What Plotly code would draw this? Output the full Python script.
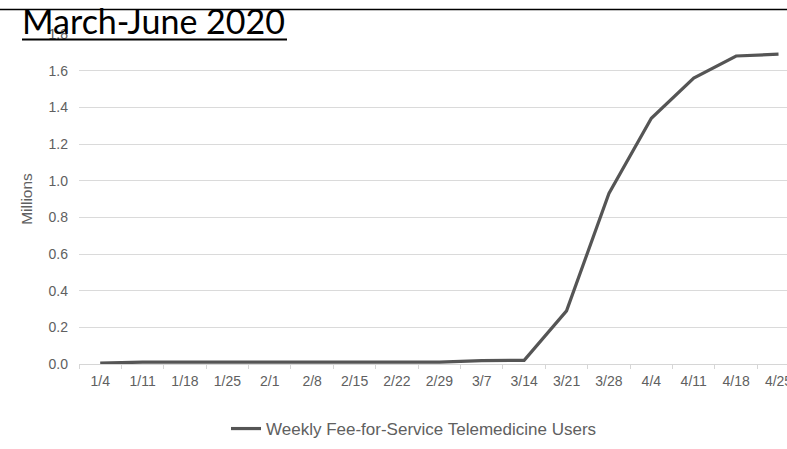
import plotly.graph_objects as go

weeks = ["1/4", "1/11", "1/18", "1/25", "2/1", "2/8", "2/15", "2/22", "2/29",
         "3/7", "3/14", "3/21", "3/28", "4/4", "4/11", "4/18", "4/25"]
users_millions = [0.005, 0.01, 0.01, 0.01, 0.01, 0.01, 0.01, 0.01, 0.01,
                  0.018, 0.02, 0.29, 0.93, 1.34, 1.56, 1.68, 1.69]
y_ticks = [0.0, 0.2, 0.4, 0.6, 0.8, 1.0, 1.2, 1.4, 1.6, 1.8]
series_name = "Weekly Fee-for-Service Telemedicine Users"
title_text = "March-June 2020"

W, H = 787, 449
L, R, T, B = 79, 0, 34, 85
PW, PH = W - L - R, H - T - B

fig = go.Figure()
fig.add_trace(go.Scatter(
    x=weeks, y=users_millions, mode="lines", name=series_name,
    line=dict(color="#555555", width=3.2),
    showlegend=True,
))

tick_font = dict(family="Liberation Sans, Arial", size=14, color="#606060")

fig.update_layout(
    width=W, height=H,
    margin=dict(l=L, r=R, t=T, b=B, autoexpand=False),
    paper_bgcolor="white", plot_bgcolor="white",
    showlegend=True,
    legend=dict(orientation="h", x=(226 - L) / PW, xanchor="left",
                y=-(429 - (H - B)) / PH, yanchor="middle",
                font=dict(family="Liberation Sans, Arial", size=17, color="#606060"),
                bgcolor="rgba(0,0,0,0)"),
    xaxis=dict(type="category", categoryorder="array", categoryarray=weeks,
               range=[-0.5, 16.2], showgrid=False, zeroline=False, automargin=False,
               showline=True, linecolor="#d6d6d6", linewidth=1,
               ticks="outside", tickson="boundaries", ticklen=4, tickcolor="#d6d6d6",
               tickfont=tick_font, ticklabelstandoff=4),
    yaxis=dict(range=[0, 1.8], tickvals=y_ticks, tickformat=".1f", automargin=False,
               showgrid=True, gridcolor="#dadada", gridwidth=1,
               zeroline=False, showline=False, ticks="",
               tickfont=tick_font, ticklabelstandoff=10,
               title=dict(text="Millions", font=dict(family="Liberation Sans, Arial", size=15.5, color="#606060"),
                          standoff=12)),
)

# title annotation (drawn on top of the gridlines)
fig.add_annotation(
    text=title_text, xref="paper", yref="paper",
    x=(20 - L) / PW, xanchor="left",
    y=1 + (T - 43) / PH, yanchor="bottom",
    showarrow=False, font=dict(family="Lato", size=34, color="black"),
)

# top rule and title underline
fig.add_shape(type="line", xref="paper", yref="paper",
              x0=-L / PW, x1=1, y0=1 + (T - 9.5) / PH, y1=1 + (T - 9.5) / PH,
              line=dict(color="black", width=1.6))
fig.add_shape(type="line", xref="paper", yref="paper",
              x0=(22 - L) / PW, x1=(287 - L) / PW,
              y0=1 + (T - 39.5) / PH, y1=1 + (T - 39.5) / PH,
              line=dict(color="black", width=2.2))

fig.write_html("out.html")
